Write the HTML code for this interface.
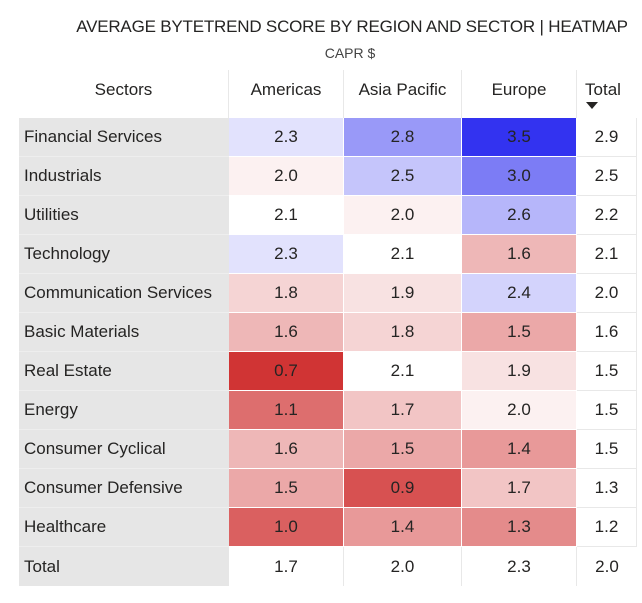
<!DOCTYPE html>
<html><head><meta charset="utf-8">
<style>
body{margin:0;width:642px;height:603px;background:#fff;font-family:"Liberation Sans",sans-serif;color:#252423;position:relative;overflow:hidden}
#title{position:absolute;left:2px;width:700px;top:17px;text-align:center;font-size:17px;letter-spacing:-0.2px}
#sub{position:absolute;left:0;width:700px;top:45px;text-align:center;font-size:14px;color:#444}
.c{position:absolute;box-sizing:border-box;font-size:17px;display:flex;align-items:center}
</style></head><body>
<div id="title">AVERAGE BYTETREND SCORE BY REGION AND SECTOR | HEATMAP</div>
<div id="sub">CAPR $</div>
<div id="grid"></div>
<script>
const sectors=["Financial Services","Industrials","Utilities","Technology","Communication Services","Basic Materials","Real Estate","Energy","Consumer Cyclical","Consumer Defensive","Healthcare"];
const regions=["Americas","Asia Pacific","Europe"];
const americas=[2.3,2.0,2.1,2.3,1.8,1.6,0.7,1.1,1.6,1.5,1.0];
const asiaPacific=[2.8,2.5,2.0,2.1,1.9,1.8,2.1,1.7,1.5,0.9,1.4];
const europe=[3.5,3.0,2.6,1.6,2.4,1.5,1.9,2.0,1.4,1.7,1.3];
const rowTotals=[2.9,2.5,2.2,2.1,2.0,1.6,1.5,1.5,1.5,1.3,1.2];
const colTotals=[1.7,2.0,2.3];
const grandTotal=2.0;
const series=[americas,asiaPacific,europe];
const g=document.getElementById('grid');
const colX=[19,229,344,462,577,637];
const top0=70,headH=48,rowH=39;
const vmin=0.7,vmid=2.1,vmax=3.5;
function color(v){
  if(v<=vmid){const t=Math.min(1,(vmid-v)/(vmid-vmin));
    return `rgb(${Math.round(255-47*t)},${Math.round(255-203*t)},${Math.round(255-203*t)})`;}
  const t=Math.min(1,(v-vmid)/(vmax-vmid));
  return `rgb(${Math.round(255-204*t)},${Math.round(255-204*t)},${Math.round(255-15*t)})`;
}
function cell(x0,x1,y,h,text,bg,align,name,extra){
  const d=document.createElement('div');d.className='c';
  d.style.left=x0+'px';d.style.top=y+'px';d.style.width=(x1-x0)+'px';d.style.height=h+'px';
  d.style.background=bg;d.style.justifyContent=align==='l'?'flex-start':'center';
  if(align==='l')d.style.paddingLeft='5px';
  if(extra)Object.assign(d.style,extra);
  d.textContent=text;
  
  
  g.appendChild(d);return d;
}
const hb={borderRight:'1px solid #e8e8e8',paddingBottom:'8px'};
cell(colX[0],colX[1],top0,headH,"Sectors","#fff",'c','header-sectors',hb);
regions.forEach((r,i)=>cell(colX[i+1],colX[i+2],top0,headH,r,"#fff",'c','header-'+r.toLowerCase().replace(' ','-'),hb));
const th=cell(colX[4],colX[5],top0,headH,"","#fff",'c','header-total');

th.innerHTML='<div style="display:flex;flex-direction:column;align-items:flex-start;margin-left:-8px;margin-top:2px"><span>Total</span><svg width="14" height="9" style="margin-top:1px"><polygon points="1,1 13,1 7,8" fill="#252423"/></svg></div>';
const bw={borderRight:'1px solid #fff',borderBottom:'1px solid #fff'};
const bt={borderBottom:'1px solid #e8e8e8',borderRight:'1px solid #e8e8e8'};
sectors.forEach((s,r)=>{
  const y=top0+headH+r*rowH;
  cell(colX[0],colX[1],y,rowH,s,"#e6e6e6",'l','row-label-'+r,{borderBottom:'1px solid #eee'});
  series.forEach((arr,c)=>cell(colX[c+1],colX[c+2],y,rowH,arr[r].toFixed(1),color(arr[r]),'c','cell-'+r+'-'+c,bw));
  cell(colX[4],colX[5],y,rowH,rowTotals[r].toFixed(1),"#fff",'c','row-total-'+r,bt);
});
const yt=top0+headH+sectors.length*rowH;
cell(colX[0],colX[1],yt,rowH,"Total","#e6e6e6",'l','total-row-label');
colTotals.forEach((v,c)=>cell(colX[c+1],colX[c+2],yt,rowH,v.toFixed(1),"#fff",'c','col-total-'+c,{borderRight:'1px solid #e8e8e8'}));
cell(colX[4],colX[5],yt,rowH,grandTotal.toFixed(1),"#fff",'c','grand-total');
</script>
</body></html>
